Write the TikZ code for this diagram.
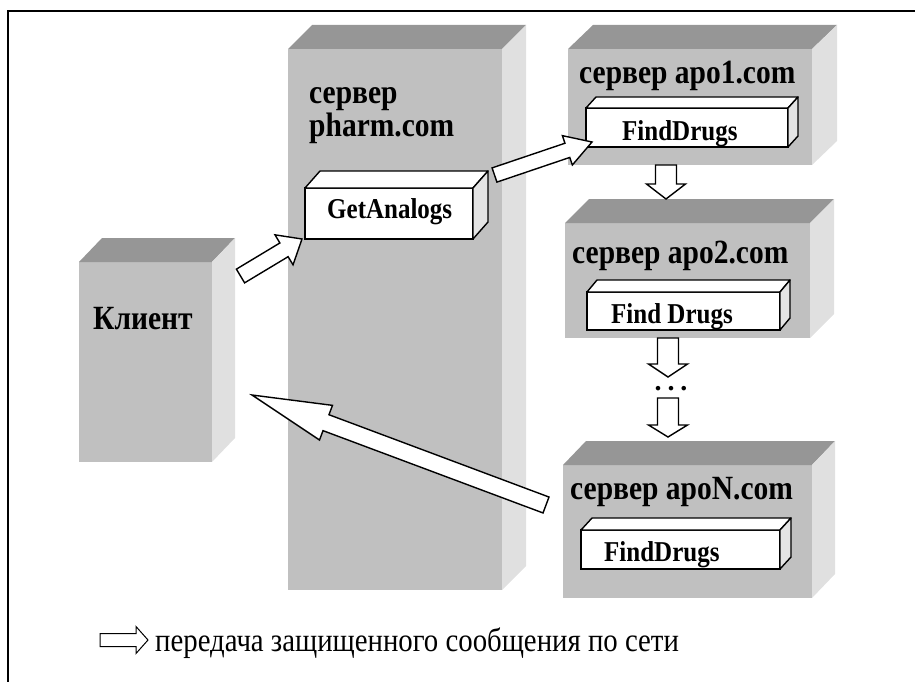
\documentclass[tikz,border=0pt]{standalone}
\usepackage{fontspec}
\setmainfont{Liberation Serif}
\usetikzlibrary{calc}
\definecolor{frontgray}{HTML}{C0C0C0}
\definecolor{topgray}{HTML}{969696}
\definecolor{sidegray}{HTML}{E0E0E0}
\definecolor{wside}{HTML}{E4E4E4}
\newcommand{\tallbox}[1]{\scalebox{1}[1.15]{#1}}
% faces of a 3D box: #1 node name, #2 depth x, #3 depth y, #4 top style, #5 side style
\newcommand{\boxfaces}[5]{%
  \path[#4] (#1.north west) -- ++(#2,-#3) -- ($(#1.north east)+(#2,-#3)$) -- (#1.north east) -- cycle;
  \path[#5] (#1.north east) -- ++(#2,-#3) -- ($(#1.south east)+(#2,-#3)$) -- (#1.south east) -- cycle;
}
% block arrow: #2 tail, #3 tip, #4 half shaft, #5 half head, #6 head length
\newcommand{\blockarrow}[6][]{%
  \coordinate (ba-h) at ($(#3)!#6!(#2)$);
  \draw[blk,#1] ($(#2)!#4!90:(#3)$) -- ($(ba-h)!#4!-90:(#2)$) -- ($(ba-h)!#5!-90:(#2)$) -- (#3)
     -- ($(ba-h)!#5!90:(#2)$) -- ($(ba-h)!#4!90:(#2)$) -- ($(#2)!#4!-90:(#3)$) -- cycle;
}
\begin{document}
\begin{tikzpicture}[x=1pt,y=-1pt,
  gbox/.style={fill=frontgray,inner sep=0pt,outer sep=0pt,anchor=north west},
  wbox/.style={fill=white,draw=black,line width=1.4pt,inner sep=0pt,outer sep=0pt,anchor=north west},
  gtop/.style={fill=topgray},
  gside/.style={fill=sidegray},
  wtop/.style={fill=white,draw=black,line width=1.4pt,line join=round},
  wsidest/.style={fill=wside,draw=black,line width=1.4pt,line join=round},
  blk/.style={fill=white,draw=black,line width=1.4pt,line join=miter},
  title/.style={inner sep=0pt,anchor=base west,font=\fontsize{29.5}{33}\selectfont\bfseries},
  meth/.style={inner sep=0pt,anchor=base west,font=\fontsize{25}{29}\selectfont\bfseries},
]
\useasboundingbox (0,0) rectangle (915,682);
\draw[line width=1.6pt] (915,11) -- (8,11) -- (8,682);

% gray servers
\node[gbox,minimum width=133pt,minimum height=200pt] (client) at (79,262) {};
\boxfaces{client}{23}{24}{gtop}{gside}
\node[gbox,minimum width=214pt,minimum height=541pt] (pharm) at (288,49) {};
\boxfaces{pharm}{24}{24}{gtop}{gside}
\node[gbox,minimum width=244pt,minimum height=116pt] (apo1) at (568,49) {};
\boxfaces{apo1}{25}{24}{gtop}{gside}
\node[gbox,minimum width=245pt,minimum height=115pt] (apo2) at (565,223) {};
\boxfaces{apo2}{24}{24}{gtop}{gside}
\node[gbox,minimum width=249pt,minimum height=133pt] (apoN) at (563,465) {};
\boxfaces{apoN}{23}{24}{gtop}{gside}

% method boxes
\node[wbox,minimum width=168pt,minimum height=51pt] (ga) at (305,188) {};
\boxfaces{ga}{15}{17}{wtop}{wsidest}
\node[wbox,minimum width=202pt,minimum height=39pt] (fd1) at (586,108) {};
\boxfaces{fd1}{10}{11}{wtop}{wsidest}
\node[wbox,minimum width=193pt,minimum height=38pt] (fd2) at (587,292) {};
\boxfaces{fd2}{10}{12}{wtop}{wsidest}
\node[wbox,minimum width=199pt,minimum height=39pt] (fdN) at (581,530) {};
\boxfaces{fdN}{11}{12}{wtop}{wsidest}

% texts
\node[title] (tclient) at (93,329) {\tallbox{Клиент}};
\node[title] (tpharm) at (309,104) {\tallbox{сервер}};
\node[title] (tpharm2) at (309,136) {\tallbox{pharm.com}};
\node[title] (tapo1) at (579,84) {\tallbox{сервер apo1.com}};
\node[title] (tapo2) at (572,263) {\tallbox{сервер apo2.com}};
\node[title] (tapoN) at (570,499) {\tallbox{сервер apoN.com}};
\node[meth] (tga) at (327,218) {\tallbox{GetAnalogs}};
\node[meth] (tfd1) at (622,140) {\tallbox{FindDrugs}};
\node[meth] (tfd2) at (611,323) {\tallbox{Find Drugs}};
\node[meth] (tfdN) at (604,561) {\tallbox{FindDrugs}};
\node[inner sep=0pt,anchor=base,font=\fontsize{28}{30}\selectfont\bfseries] (dots) at (671,390) {.\hspace{6pt}.\hspace{6pt}.};

% arrow end points
\coordinate (a1s) at (240.5,276);
\coordinate (a1e) at (302,239);
\coordinate (a2s) at (494.5,175);
\coordinate (a2e) at (592,142);
\coordinate (a3s) at (546,505);
\coordinate (a3e) at (252,395);
\coordinate (d1s) at (apo1.south -| 666,0);
\coordinate (d1e) at (666,199);
\coordinate (d2s) at (apo2.south -| 668,0);
\coordinate (d2e) at (668,377);
\coordinate (d3s) at (668,398);
\coordinate (d3e) at (668,437);

\blockarrow{a1s}{a1e}{8pt}{17.5pt}{21pt}
\blockarrow{a2s}{a2e}{7.5pt}{15.5pt}{26pt}
\blockarrow{a3s}{a3e}{8.5pt}{18.5pt}{79pt}
\blockarrow{d1s}{d1e}{10.5pt}{19.5pt}{15pt}
\blockarrow{d2s}{d2e}{10.5pt}{19.5pt}{13pt}
\blockarrow{d3s}{d3e}{10.5pt}{19.5pt}{12pt}

% legend
\coordinate (ls) at (100,640);
\coordinate (le) at (148,640);
\blockarrow[line width=1pt]{ls}{le}{6.5pt}{13.5pt}{12pt}
\node[inner sep=0pt,anchor=base west,font=\fontsize{28.8}{32}\selectfont] (legend) at (155,651) {\tallbox{передача защищенного сообщения по сети}};
\end{tikzpicture}
\end{document}
